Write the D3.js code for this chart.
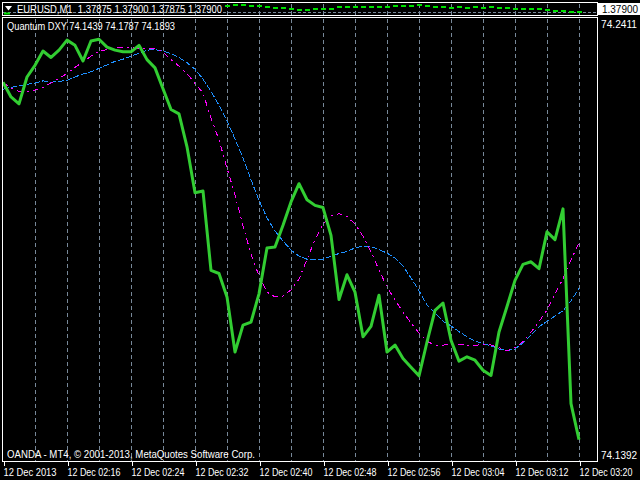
<!DOCTYPE html>
<html><head><meta charset="utf-8">
<script src="https://cdn.jsdelivr.net/npm/d3@7"></script>
<style>html,body{margin:0;padding:0;background:#000;overflow:hidden}svg{display:block}</style>
</head><body>
<svg id="c" width="640" height="480"></svg>
<script>
// ---------- data ----------
const startTime = new Date(2013, 11, 12, 2, 8);   // first M1 bar (12 Dec 2013 02:08)
const dxyLine = [74.2263,74.2229,74.2213,74.2275,74.2302,74.2335,74.2320,74.2337,74.2360,74.2348,
  74.2312,74.2358,74.2362,74.2344,74.2337,74.2333,74.2333,74.2348,74.2315,74.2296,
  74.2248,74.2200,74.2190,74.2114,74.2008,74.2012,74.1829,74.1822,74.1768,74.1641,
  74.1703,74.1710,74.1775,74.1881,74.1883,74.1933,74.1987,74.2029,74.1992,74.1979,
  74.1974,74.1910,74.1762,74.1819,74.1779,74.1676,74.1700,74.1772,74.1641,74.1657,
  74.1626,74.1606,74.1586,74.1664,74.1737,74.1754,74.1668,74.1620,74.1630,74.1622,
  74.1599,74.1587,74.1687,74.1746,74.1806,74.1843,74.1849,74.1833,74.1918,74.1900,
  74.1971,74.1522,74.1439];
const maSlow = [74.2247,74.2251,74.2254,74.2258,74.2261,74.2266,74.2263,74.2265,74.2267,74.2275,
  74.2282,74.2287,74.2295,74.2303,74.2311,74.2316,74.2323,74.2330,74.2337,74.2338,
  74.2335,74.2329,74.2320,74.2308,74.2293,74.2270,74.2242,74.2210,74.2174,74.2132,
  74.2088,74.2038,74.1991,74.1950,74.1920,74.1897,74.1876,74.1862,74.1855,74.1854,
  74.1855,74.1862,74.1868,74.1873,74.1881,74.1885,74.1884,74.1877,74.1869,74.1858,
  74.1839,74.1812,74.1782,74.1749,74.1731,74.1712,74.1701,74.1688,74.1676,74.1666,
  74.1660,74.1655,74.1648,74.1644,74.1648,74.1662,74.1680,74.1699,74.1712,74.1724,
  74.1736,74.1759,74.1787];
const maFast = [74.2262,74.2249,74.2242,74.2242,74.2245,74.2251,74.2261,74.2272,74.2283,74.2297,
  74.2310,74.2323,74.2334,74.2338,74.2342,74.2343,74.2343,74.2340,74.2341,74.2341,
  74.2333,74.2315,74.2300,74.2283,74.2260,74.2238,74.2180,74.2130,74.2065,74.2003,
  74.1932,74.1867,74.1816,74.1779,74.1768,74.1770,74.1784,74.1809,74.1855,74.1899,
  74.1936,74.1955,74.1960,74.1953,74.1936,74.1908,74.1872,74.1830,74.1791,74.1761,
  74.1733,74.1708,74.1685,74.1666,74.1656,74.1657,74.1658,74.1659,74.1657,74.1656,
  74.1659,74.1657,74.1651,74.1644,74.1651,74.1665,74.1687,74.1711,74.1738,74.1775,
  74.1810,74.1853,74.1893];
const eurusdFirstBar = 28;
const eurusdClose = [1.37960,1.37967,1.37967,1.37960,1.37960,1.37947,1.37940,1.37940,1.37933,1.37920,
  1.37920,1.37927,1.37927,1.37927,1.37947,1.37947,1.37953,1.37953,1.37953,1.37947,
  1.37953,1.37960,1.37960,1.37960,1.37967,1.37960,1.37947,1.37947,1.37940,1.37947,
  1.37940,1.37947,1.37940,1.37947,1.37940,1.37940,1.37927,1.37927,1.37927,1.37927,
  1.37920,1.37913,1.37907,1.37900,1.37900];
const bidPrice = 1.37900;
const dxyScaleLabels = [74.2411, 74.1392];
const priceDomain = [1.37870, 1.37990];
const priceTitle = "EURUSD,M1  1.37875 1.37900 1.37875 1.37900";
const indicatorTitle = "Quantum DXY 74.1439 74.1787 74.1893";
const copyright = "OANDA - MT4, \u00A9 2001-2013, MetaQuotes Software Corp.";
const months = ["Jan","Feb","Mar","Apr","May","Jun","Jul","Aug","Sep","Oct","Nov","Dec"];

// ---------- layout ----------
const svg = d3.select("#c");
const FONT = "'Liberation Sans', Arial, sans-serif";
const L = 2.5, R = 597.5;
const top1 = 2.5, bot1 = 15.5, top2 = 17.5, bot2 = 461.5;
const times = dxyLine.map((d, i) => new Date(startTime.getTime() + i * 60000));

const x = d3.scaleTime().domain([times[0], times[times.length - 1]]).range([3, 579]);
const y = d3.scaleLinear().domain([dxyScaleLabels[1], dxyScaleLabels[0]]).range([460, 18]);
const py = d3.scaleLinear().domain(priceDomain).range([15, 3]);

svg.append("rect").attr("width", 640).attr("height", 480).attr("fill", "#000");

// grid (every 4 minutes)
const gridTimes = times.filter((t, i) => i > 0 && i % 4 === 0);
const grid = svg.append("g").attr("stroke", "#778899").attr("stroke-width", 1)
  .attr("stroke-dasharray", "4,3").attr("shape-rendering", "crispEdges");
gridTimes.forEach(t => {
  const gx = Math.round(x(t)) + 0.5;
  grid.append("line").attr("x1", gx).attr("x2", gx).attr("y1", top1 + 1).attr("y2", bot1);
  grid.append("line").attr("x1", gx).attr("x2", gx).attr("y1", top2 + 1).attr("y2", bot2);
});

// price panel
const bidY = Math.round(py(bidPrice)) + 0.5;
svg.append("line").attr("x1", L).attr("x2", R).attr("y1", bidY).attr("y2", bidY)
  .attr("stroke", "#778899").attr("stroke-dasharray", "3,2").attr("shape-rendering", "crispEdges");
svg.append("g").selectAll("rect").data(eurusdClose).join("rect")
  .attr("x", (d, i) => Math.round(x(times[eurusdFirstBar + i])) - 2)
  .attr("y", d => Math.round(py(d)) - 1)
  .attr("width", 5).attr("height", 2).attr("fill", "#00e000");

// indicator lines
const line = d3.line().x((d, i) => x(times[i])).y(d => y(d));
svg.append("path").datum(maSlow).attr("d", line).attr("fill", "none")
  .attr("stroke", "#1e90ff").attr("stroke-width", 1).attr("stroke-dasharray", "6,2")
  .attr("shape-rendering", "crispEdges");
svg.append("path").datum(maFast).attr("d", line).attr("fill", "none")
  .attr("stroke", "#ff00ff").attr("stroke-width", 1).attr("stroke-dasharray", "6,4,2,4")
  .attr("shape-rendering", "crispEdges");
svg.append("path").datum(dxyLine).attr("d", line).attr("fill", "none")
  .attr("stroke", "#32cd32").attr("stroke-width", 3).attr("stroke-linejoin", "round");

// frames
const frame = svg.append("g").attr("fill", "none").attr("stroke", "#fff").attr("stroke-width", 1)
  .attr("shape-rendering", "crispEdges");
frame.append("rect").attr("x", L).attr("y", top1).attr("width", R - L).attr("height", bot1 - top1);
frame.append("rect").attr("x", L).attr("y", top2).attr("width", R - L).attr("height", bot2 - top2);

// time axis
const labelTimes = times.filter((t, i) => i % 8 === 0);
const fmt = t => {
  const s = t.getDate() + " " + months[t.getMonth()] + " ";
  if (t.getTime() === times[0].getTime()) return s + t.getFullYear();
  return s + String(t.getHours()).padStart(2, "0") + ":" + String(t.getMinutes()).padStart(2, "0");
};
const ax = svg.append("g").attr("transform", `translate(0.5,${bot2})`)
  .call(d3.axisBottom(x).tickValues(labelTimes).tickFormat(fmt).tickSize(4).tickPadding(3));
ax.select(".domain").remove();
ax.selectAll(".tick line").attr("stroke", "#fff").attr("shape-rendering", "crispEdges");
ax.selectAll(".tick text").attr("fill", "#fff").attr("text-anchor", "start").attr("x", -0.5)
  .attr("font-family", FONT).attr("font-size", 10).attr("textLength", 53).attr("lengthAdjust", "spacingAndGlyphs");

// right scale labels
svg.append("g").selectAll("text").data(dxyScaleLabels).join("text")
  .attr("x", 601).attr("y", d => Math.max(28, Math.min(459, y(d) + 4)))
  .attr("fill", "#fff").attr("font-family", FONT).attr("font-size", 10)
  .attr("textLength", 36).attr("lengthAdjust", "spacingAndGlyphs")
  .text(d => d.toFixed(4));
svg.append("rect").attr("x", 598).attr("y", Math.round(py(bidPrice)) - 9).attr("width", 42).attr("height", 12).attr("fill", "#fff");
svg.append("text").attr("x", 602).attr("y", Math.round(py(bidPrice)) + 1).attr("fill", "#000")
  .attr("font-family", FONT).attr("font-size", 10).attr("textLength", 36).attr("lengthAdjust", "spacingAndGlyphs")
  .text(bidPrice.toFixed(5));

// titles
svg.append("path").attr("d", "M5,6 L12,6 L8.5,10.5 Z").attr("fill", "#fff");
svg.append("rect").attr("x", 4).attr("y", 12.5).attr("width", 6).attr("height", 2).attr("fill", "#00e000");
svg.append("text").attr("x", 17).attr("y", 13).attr("fill", "#fff").attr("font-family", FONT).attr("font-size", 10)
  .attr("textLength", 205).attr("lengthAdjust", "spacingAndGlyphs").attr("xml:space", "preserve").text(priceTitle);
svg.append("text").attr("x", 7).attr("y", 30).attr("fill", "#fff").attr("font-family", FONT).attr("font-size", 10)
  .attr("textLength", 168).attr("lengthAdjust", "spacingAndGlyphs").text(indicatorTitle);
svg.append("text").attr("x", 7).attr("y", 458).attr("fill", "#fff").attr("font-family", FONT).attr("font-size", 10)
  .attr("textLength", 248).attr("lengthAdjust", "spacingAndGlyphs").text(copyright);
</script>
</body></html>
